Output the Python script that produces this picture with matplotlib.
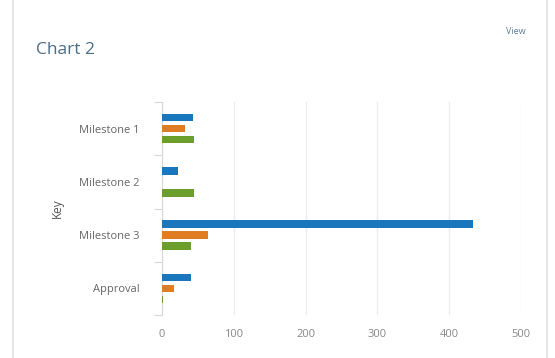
import matplotlib
matplotlib.use("Agg")
import matplotlib.pyplot as plt
import numpy as np
from matplotlib.patches import Rectangle

categories = ["Milestone 1", "Milestone 2", "Milestone 3", "Approval"]
series_blue = [43, 22, 433, 41]
series_orange = [32, 0, 64, 17]
series_green = [44, 44, 41, 1]
x_ticks = [0, 100, 200, 300, 400, 500]

plt.rcParams['font.family'] = ['Open Sans', 'DejaVu Sans']

fig = plt.figure(figsize=(5.55, 3.58), dpi=100)
fig.patch.set_facecolor('white')

# card border
card = Rectangle((13/555, -0.05), (547-13)/555, (1.05 - 11/358 + 0.05), transform=fig.transFigure,
                 fill=False, edgecolor='#e2e2e2', linewidth=1.2)
fig.add_artist(card)

fig.text(36/555, 1 - 50/358, "Chart 2", fontsize=12.5, color='#4b6d87', va='center', ha='left')
fig.text(526/555, 1 - 32/358, "View", fontsize=6.5, color='#5a7a94', va='center', ha='right')

ax = fig.add_axes([162/555, 1 - 315/358, (521 - 162)/555, (315 - 102)/358])

n = len(categories)
y = np.arange(n)
off = 0.205
h = 0.14
colors = ['#1b77bd', '#e07d22', '#6b9e2b']
for i, (vals, c) in enumerate(zip([series_blue, series_orange, series_green], colors)):
    ax.barh(y + (i - 1) * off, vals, height=h, color=c, zorder=3)

ax.set_ylim(n - 0.5, -0.5)
ax.set_xlim(0, 500)
ax.set_yticks(y)
ax.set_yticklabels(categories)
ax.set_yticks(np.arange(-0.5, n, 1), minor=True)
ax.tick_params(axis='y', which='major', length=0, pad=16, labelsize=8, labelcolor='#666666')
ax.tick_params(axis='y', which='minor', length=6, color='#d8d8d8', width=0.8)
ax.set_xticks(x_ticks)
ax.tick_params(axis='x', length=0, pad=10, labelsize=8, labelcolor='#888888')
ax.grid(axis='x', color='#ececec', linewidth=0.9, zorder=0)
for s in ['top', 'right', 'bottom']:
    ax.spines[s].set_visible(False)
ax.spines['left'].set_color('#d8d8d8')
ax.spines['left'].set_linewidth(0.8)
ax.set_ylabel("Key", fontsize=8.5, color='#555555')
ax.yaxis.set_label_coords(-(162 - 64) / (521 - 162), 0.5)

fig.savefig("out.png", dpi=100, facecolor='white')
